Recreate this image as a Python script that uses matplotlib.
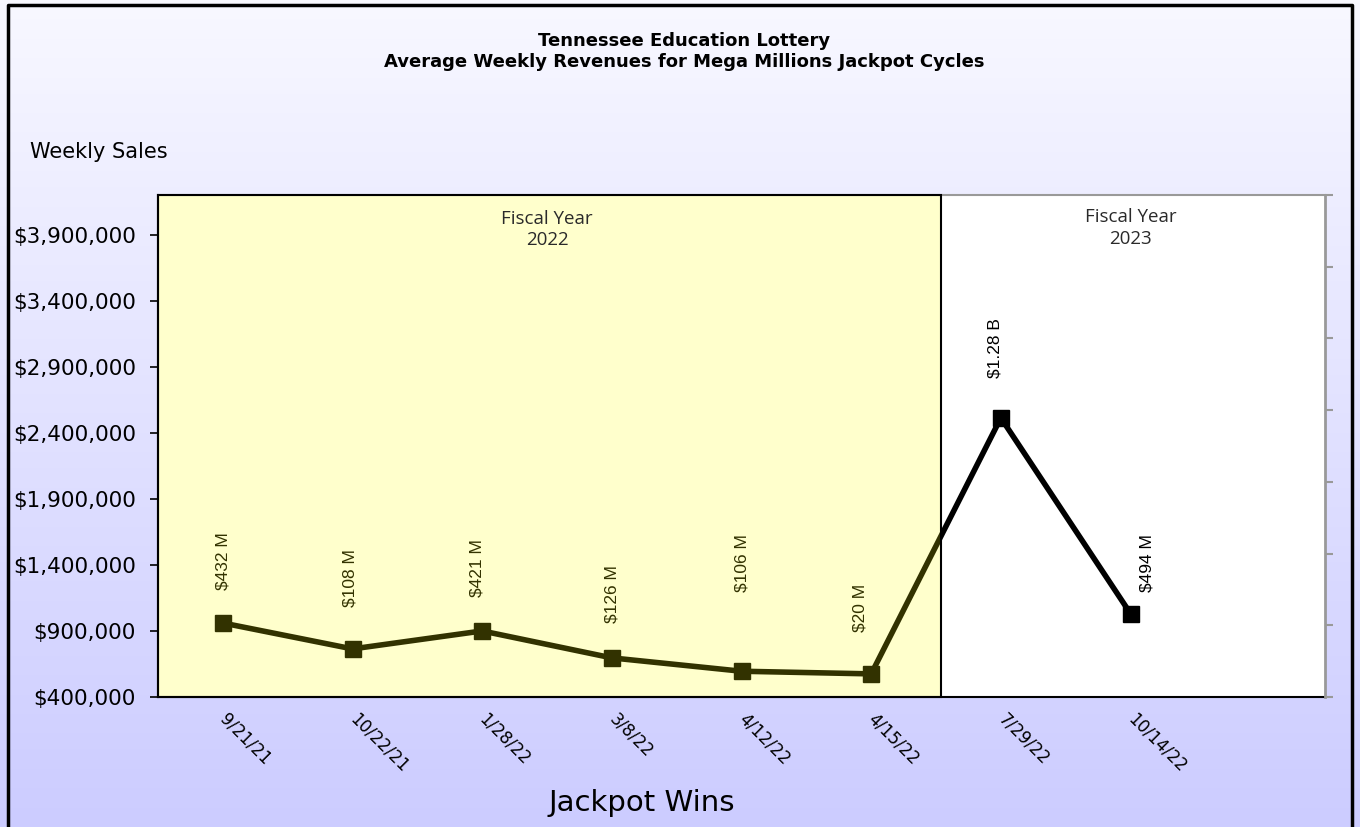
import matplotlib.pyplot as plt
import numpy as np
from matplotlib.patches import Rectangle

# donnees
dates = ["9/21/21", "10/22/21", "1/28/22", "3/8/22", "4/12/22", "4/15/22", "7/29/22", "10/14/22"]
ventes = [960000, 764000, 900000, 696000, 595000, 575000, 2513000, 1031000]
jackpots = ["$432 M", "$108 M", "$421 M", "$126 M", "$106 M", "$20 M", "$1.28 B", "$494 M"]
yticks = [400000, 900000, 1400000, 1900000, 2400000, 2900000, 3400000, 3900000]
nb_fy2022 = 6

# decalages des etiquettes (pixels) - style
label_dy = [33, 42, 34, 35, 79, 42, 40, 22]
label_dx = [0, -3, -5, 0, 0, -11, -6, 16]
police = "DejaVu Sans"

fig = plt.figure(figsize=(13.6, 8.27), dpi=100)

# fond en degrade
bg = fig.add_axes([0, 0, 1, 1], zorder=-2)
grad = np.linspace(0, 1, 256).reshape(-1, 1)
couleurs = np.zeros((256, 1, 3))
haut = np.array([248, 248, 255]) / 255
bas = np.array([204, 204, 255]) / 255
couleurs[:, 0, :] = haut + (bas - haut) * grad
bg.imshow(couleurs, aspect="auto", extent=[0, 1, 0, 1])
bg.set_xlim(0, 1)
bg.set_ylim(0, 1)
bg.axis("off")
# cadre noir
bg.plot([0.006, 0.006, 0.994, 0.994], [0, 0.994, 0.994, 0], color="black", lw=2.5,
        transform=bg.transAxes, clip_on=False)

ax = fig.add_axes([0.1162, 0.1572, 0.8581, 0.607])
ax.set_facecolor("white")
x = np.arange(len(ventes))
ax.plot(x, ventes, color="black", lw=4, marker="s", markersize=11, zorder=3)
ax.set_xlim(-0.5, len(ventes) + 0.5)
ax.set_ylim(400000, 4200000)

for i, (v, lab) in enumerate(zip(ventes, jackpots)):
    ax.annotate(lab, (i, v), xytext=(label_dx[i], label_dy[i]), textcoords="offset pixels",
                rotation=90, ha="center", va="bottom", fontsize=12.5,
                family="Liberation Sans", color="black", zorder=4)

# zone jaune FY2022 (superposee, transparente)
largeur = nb_fy2022 + 0.04
ax.add_patch(Rectangle((-0.5, 400000), largeur, 3800000, facecolor="yellow", alpha=0.2,
                       edgecolor="none", zorder=5))
ax.add_patch(Rectangle((-0.5, 400000), largeur, 3800000, facecolor="none",
                       edgecolor="black", lw=1.5, zorder=6, clip_on=False))

ax.text((nb_fy2022 - 1) / 2, 3940000, "Fiscal Year\n2022", ha="center", va="center",
        fontsize=13.5, family="Open Sans", color="#2a2a2a", linespacing=1.25, zorder=7)
ax.text((nb_fy2022 + len(ventes)) / 2, 3950000, "Fiscal Year\n2023", ha="center", va="center",
        fontsize=13.5, family="Open Sans", color="#2a2a2a", linespacing=1.25, zorder=7)

ax.set_yticks(yticks)
ax.set_yticklabels(["${:,}".format(t) for t in yticks], family=police, fontsize=15.5)
ax.tick_params(axis="y", length=6, width=1.2, direction="out", pad=10)
ax.set_xticks(x)
ax.set_xticklabels(dates, rotation=-45, ha="left", va="center", family=police,
                   fontsize=12, rotation_mode="anchor")
ax.tick_params(axis="x", length=0, pad=14)
ax.spines["left"].set_color("black")
ax.spines["left"].set_linewidth(1.5)
ax.spines["bottom"].set_color("black")
ax.spines["bottom"].set_linewidth(1.5)
ax.spines["top"].set_color("#999999")
ax.spines["top"].set_linewidth(1.5)
ax.spines["right"].set_visible(False)

# axe secondaire gris a droite
ax2 = ax.twinx()
ax2.set_ylim(0, 7)
ax2.set_yticks(range(8))
ax2.set_yticklabels([])
ax2.tick_params(axis="y", length=6, width=1.5, color="#999999")
for s in ["left", "top", "bottom"]:
    ax2.spines[s].set_visible(False)
ax2.spines["right"].set_color("#999999")
ax2.spines["right"].set_linewidth(2)

fig.text(0.503, 0.951, "Tennessee Education Lottery", ha="center", va="center",
         fontsize=13, fontweight="bold", family=police)
fig.text(0.503, 0.925, "Average Weekly Revenues for Mega Millions Jackpot Cycles", ha="center",
         va="center", fontsize=13, fontweight="bold", family=police)
fig.text(0.022, 0.816, "Weekly Sales", ha="left", va="center", fontsize=15,
         family=police)
fig.text(0.472, 0.029, "Jackpot Wins", ha="center", va="center", fontsize=21,
         family=police)

fig.savefig("out.png", dpi=100)
